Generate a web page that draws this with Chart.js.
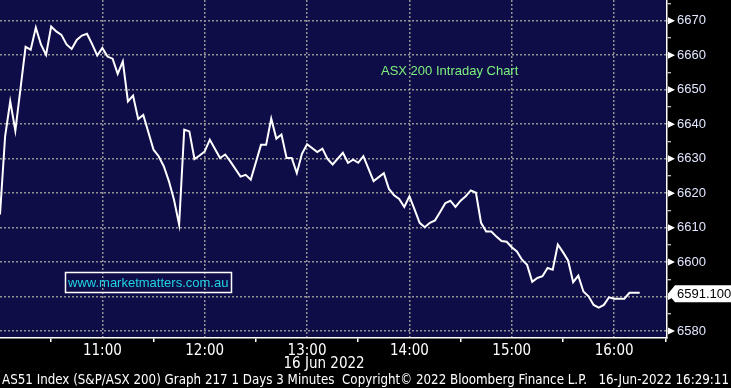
<!DOCTYPE html>
<html>
<head>
<meta charset="utf-8">
<script src="https://cdn.jsdelivr.net/npm/chart.js@4.4.1/dist/chart.umd.min.js"></script>
<style>
  html, body { margin: 0; padding: 0; background: #000; }
</style>
</head>
<body>
<canvas id="chart" width="731" height="388"></canvas>
<script>
// AS51 intraday, 3 minute bars (only the turning points are listed)
const times = [
  '10:00', '10:03', '10:06', '10:09', '10:15', '10:18', '10:21', '10:24', '10:27', '10:30',
  '10:33', '10:36', '10:39', '10:42', '10:45', '10:48', '10:51', '10:54', '10:57', '11:00',
  '11:03', '11:06', '11:09', '11:12', '11:15', '11:18', '11:21', '11:24', '11:30', '11:33',
  '11:36', '11:39', '11:42', '11:45', '11:48', '11:51', '11:54', '11:57', '12:00', '12:03',
  '12:09', '12:12', '12:15', '12:21', '12:24', '12:27', '12:33', '12:36', '12:39', '12:42',
  '12:45', '12:48', '12:51', '12:54', '12:57', '13:00', '13:06', '13:09', '13:12', '13:15',
  '13:21', '13:24', '13:27', '13:30', '13:33', '13:39', '13:45', '13:48', '13:51', '13:54',
  '13:57', '14:00', '14:03', '14:06', '14:09', '14:12', '14:15', '14:18', '14:21', '14:24',
  '14:27', '14:30', '14:33', '14:36', '14:39', '14:42', '14:45', '14:48', '14:51', '14:54',
  '14:57', '15:00', '15:03', '15:06', '15:09', '15:12', '15:15', '15:18', '15:21', '15:24',
  '15:27', '15:30', '15:33', '15:36', '15:39', '15:42', '15:45', '15:48', '15:51', '15:54',
  '15:57', '16:00', '16:03', '16:06', '16:09', '16:12', '16:15'
];
const values = [
  6613.8, 6636.5, 6646.6, 6638.1, 6662.4, 6661.6, 6668.0, 6663.1, 6660.1, 6668.3,
  6666.9, 6665.9, 6663.1, 6661.8, 6664.4, 6665.7, 6666.2, 6663.2, 6659.9, 6662.1,
  6659.6, 6659.0, 6654.6, 6658.2, 6646.6, 6648.3, 6641.5, 6642.7, 6632.6, 6630.7,
  6627.8, 6623.5, 6618.1, 6610.9, 6638.4, 6637.9, 6629.9, 6630.9, 6632.1, 6635.5,
  6630.2, 6631.2, 6629.2, 6624.8, 6625.3, 6623.9, 6634.0, 6634.0, 6641.6, 6635.8,
  6637.0, 6630.2, 6630.2, 6625.8, 6631.4, 6634.2, 6631.9, 6632.9, 6629.9, 6628.3,
  6631.7, 6628.8, 6629.7, 6628.8, 6630.7, 6623.5, 6625.8, 6621.2, 6619.4, 6618.3,
  6616.0, 6619.1, 6615.3, 6611.4, 6610.1, 6611.4, 6612.1, 6614.5, 6617.1, 6617.8,
  6616.0, 6617.8, 6619.1, 6620.8, 6620.1, 6611.4, 6608.9, 6608.9, 6607.4, 6606.1,
  6605.9, 6604.3, 6603.1, 6600.7, 6599.2, 6594.3, 6595.4, 6595.9, 6598.3, 6597.8,
  6605.1, 6602.9, 6600.5, 6594.2, 6596.1, 6591.5, 6590.1, 6587.6, 6586.8, 6587.6,
  6589.8, 6589.4, 6589.4, 6589.4, 6591.1, 6591.1, 6591.1
];

const title = 'ASX 200 Intraday Chart';
const siteLabel = 'www.marketmatters.com.au';
const dateLabel = '16 Jun 2022';
const lastLabel = '6591.100';
const footer = 'AS51 Index (S&P/ASX 200) Graph 217 1 Days 3 Minutes  Copyright\u00a9 2022 Bloomberg Finance L.P.   16-Jun-2022 16:29:11';

const DAY_START = 10 * 60;
const NAVY = '#0f0d47';
const GRID = '#939393';
const NARROW = '"Liberation Sans Narrow", "DejaVu Sans Condensed", "Liberation Sans", sans-serif';
const SANS = '"Liberation Sans", Arial, sans-serif';

const toMinutes = (t) => {
  const [h, m] = t.split(':').map(Number);
  return h * 60 + m - DAY_START;
};
const fmtTime = (v) => {
  const total = v + DAY_START;
  return Math.floor(total / 60) + ':' + String(total % 60).padStart(2, '0');
};

const points = times.map((t, i) => ({x: toMinutes(t), y: values[i]}));

// no label overhang, the plot runs right up to the canvas edges
const noPadding = (s) => {
  s.paddingTop = 0;
  s.paddingBottom = 0;
  s.paddingLeft = 0;
  s.paddingRight = 0;
};

const decor = {
  id: 'decor',
  beforeDraw(chart) {
    const {ctx, chartArea: a, width, height} = chart;
    ctx.save();
    ctx.fillStyle = '#000';
    ctx.fillRect(0, 0, width, height);
    ctx.fillStyle = NAVY;
    ctx.fillRect(a.left, a.top, a.right - a.left, a.bottom - a.top);
    ctx.restore();
  },
  afterDraw(chart) {
    const {ctx, chartArea: a, scales: {x, y}} = chart;
    ctx.save();

    // little arrows in front of the price labels
    ctx.fillStyle = '#fff';
    y.ticks.forEach((t) => {
      if (t.value % 10 !== 0) return;
      const py = y.getPixelForValue(t.value);
      ctx.beginPath();
      ctx.moveTo(a.right + 1, py - 3.5);
      ctx.lineTo(a.right + 8, py);
      ctx.lineTo(a.right + 1, py + 3.5);
      ctx.closePath();
      ctx.fill();
    });

    // last price tag
    const py = y.getPixelForValue(values[values.length - 1]) + 1;
    ctx.beginPath();
    ctx.moveTo(a.right + 1, py);
    ctx.lineTo(a.right + 8, py - 8.5);
    ctx.lineTo(chart.width, py - 8.5);
    ctx.lineTo(chart.width, py + 8.5);
    ctx.lineTo(a.right + 8, py + 8.5);
    ctx.closePath();
    ctx.fill();
    ctx.fillStyle = '#000';
    ctx.font = '13px ' + SANS;
    ctx.textBaseline = 'middle';
    ctx.fillText(lastLabel, a.right + 10, py + 1);

    // chart title
    ctx.fillStyle = '#7df07d';
    ctx.font = '13px ' + SANS;
    ctx.textAlign = 'left';
    ctx.fillText(title, 381, 71);

    // site box
    ctx.strokeStyle = '#fff';
    ctx.lineWidth = 1.5;
    ctx.strokeRect(65.5, 272.5, 166, 20);
    ctx.fillStyle = '#1fd3e3';
    ctx.fillText(siteLabel, 68, 283);

    // date under the time axis
    ctx.fillStyle = '#fff';
    ctx.font = '15px ' + NARROW;
    ctx.textAlign = 'center';
    ctx.fillText(dateLabel, x.getPixelForValue(190), 364);

    // footer line, stretched to the full width
    ctx.font = '14px ' + NARROW;
    ctx.textAlign = 'left';
    ctx.textBaseline = 'alphabetic';
    const w = ctx.measureText(footer).width;
    ctx.translate(2, 384);
    ctx.scale(727 / w, 1);
    ctx.fillText(footer, 0, 0);
    ctx.restore();
  }
};

new Chart(document.getElementById('chart'), {
  type: 'line',
  data: {
    datasets: [{
      data: points,
      borderColor: '#fff',
      borderWidth: 2,
      pointRadius: 0,
      tension: 0,
      fill: false,
    }],
  },
  options: {
    responsive: false,
    animation: false,
    devicePixelRatio: 1,
    layout: {padding: 0},
    plugins: {
      legend: {display: false},
      tooltip: {enabled: false},
    },
    scales: {
      x: {
        type: 'linear',
        min: 0,
        max: 391,
        ticks: {
          stepSize: 30,
          includeBounds: false,
          autoSkip: false,
          maxRotation: 0,
          padding: 0,
          color: '#fff',
          font: {family: NARROW, size: 15},
          callback: (v) => (v % 60 === 0 && v > 0 ? fmtTime(v) : ''),
        },
        grid: {
          color: (c) => (c.tick && c.tick.value % 60 === 0 && c.tick.value > 0 ? GRID : 'transparent'),
          lineWidth: 1.5,
          tickLength: 4,
          tickWidth: 1.5,
          tickColor: (c) => (c.tick && c.tick.value % 60 === 30 ? '#fff' : 'transparent'),
        },
        border: {color: '#fff', width: 1.5, dash: [2, 2]},
        afterFit: (s) => { s.height = 50; noPadding(s); },
      },
      y: {
        position: 'right',
        min: 6578,
        max: 6676,
        ticks: {
          stepSize: 5,
          includeBounds: false,
          autoSkip: false,
          padding: 6,
          color: '#e2e6ff',
          font: {family: SANS, size: 13},
          callback: (v) => (v % 10 === 0 ? String(v) : ''),
        },
        grid: {
          color: (c) => (c.tick && c.tick.value % 10 === 0 ? GRID : 'transparent'),
          lineWidth: 1.5,
          tickLength: 4,
          tickWidth: 1,
          tickColor: '#fff',
        },
        border: {color: '#fff', width: 1.5, dash: [2, 2]},
        afterFit: (s) => { s.width = 64; noPadding(s); },
      },
    },
  },
  plugins: [decor],
});
</script>
</body>
</html>
